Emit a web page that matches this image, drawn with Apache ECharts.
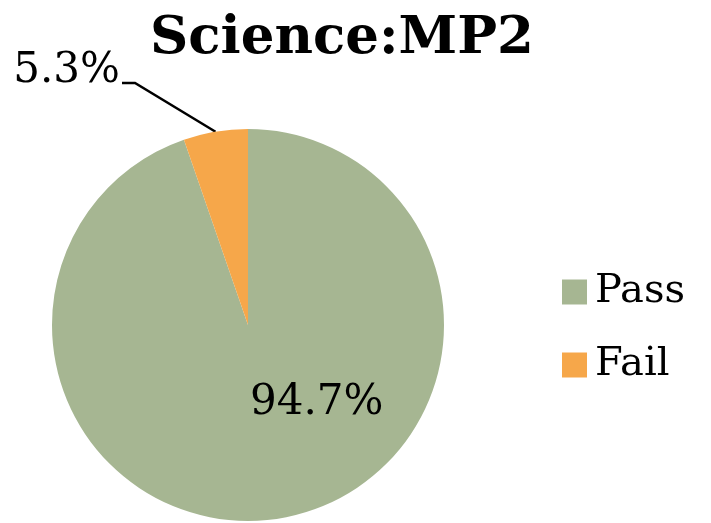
<!DOCTYPE html>
<html><head><meta charset="utf-8">
<script src="https://cdn.jsdelivr.net/npm/echarts@6/dist/echarts.min.js"></script>
<style>html,body{margin:0;padding:0;background:#fff}#c{width:711px;height:523px}</style>
</head><body><div id="c"></div>
<script>
const categories = ["Pass", "Fail"];
const values = [94.7, 5.3];
const colors = ["#A6B692", "#F6A74A"];
const chart = echarts.init(document.getElementById('c'));
const font = "DejaVu Serif";
chart.setOption({
  animation: false,
  title: { text: "Science:MP2", left: 337, textAlign: 'center', top: 8,
    textStyle: { fontFamily: font, fontWeight: 'bold', fontSize: 53, color: '#000' } },
  legend: { orient: 'vertical', left: 557, top: 267, itemWidth: 25, itemHeight: 25, itemGap: 33,
    icon: 'rect', textStyle: { fontFamily: font, fontSize: 40, color: '#000', padding: [0,0,0,3] },
    data: categories },
  series: [{
    type: 'pie', center: [248, 325], radius: 196, startAngle: 90, clockwise: true,
    data: categories.map((n, i) => ({ name: n, value: values[i], itemStyle: { color: colors[i] },
      label: i === 0 ? { position: 'inside', offset: [52, -22] } : { position: 'outside' },
      labelLine: { show: i === 1, lineStyle: { color: '#000', width: 2.5 } } })),
    label: { formatter: p => p.value.toFixed(1) + '%', fontFamily: font, fontSize: 42, color: '#000' },
    labelLayout: function (p) {
      if (p.dataIndex === 1) {
        const e = p.labelLinePoints ? p.labelLinePoints[0] : [215, 132];
        return { x: 120, y: 71, align: 'right', verticalAlign: 'middle',
          labelLinePoints: [e, [135, 83], [122, 83]] };
      }
    },
    itemStyle: { borderWidth: 0 }
  }]
});
</script></body></html>
